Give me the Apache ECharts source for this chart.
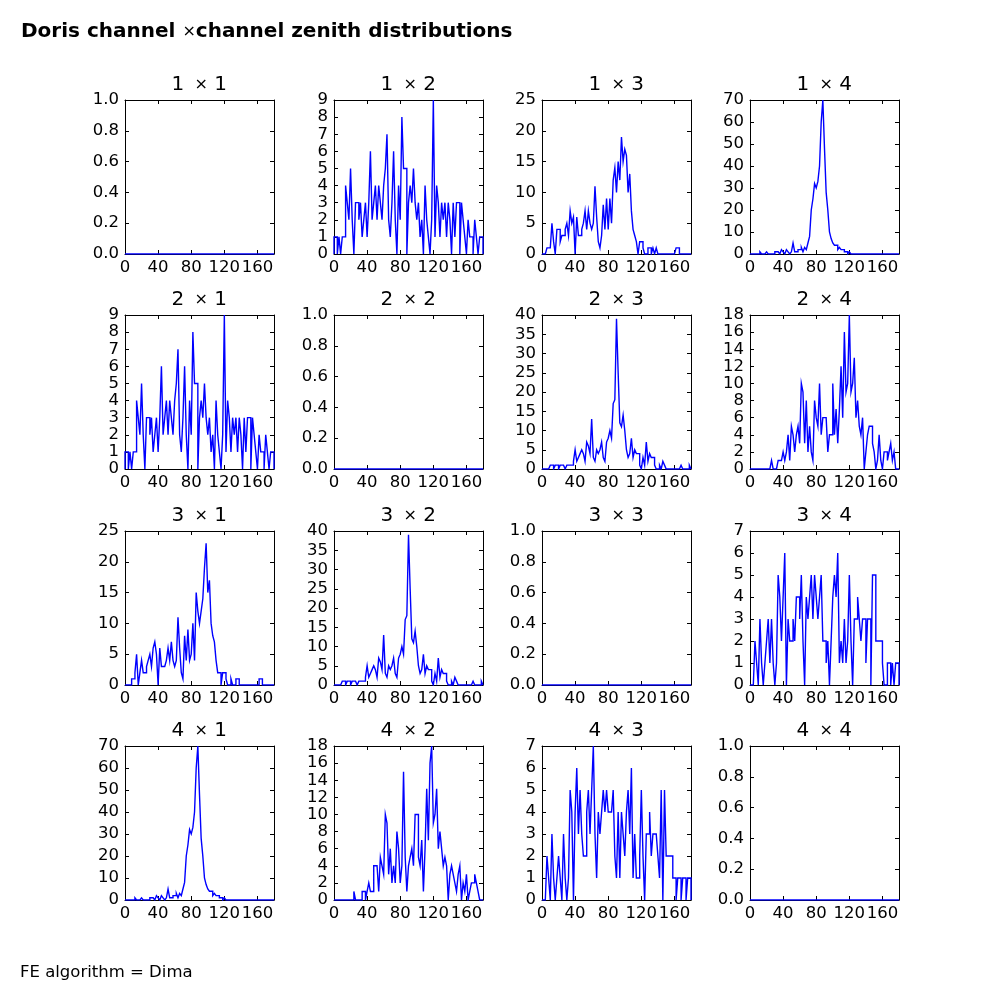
<!DOCTYPE html>
<html><head><meta charset="utf-8">
<script src="https://cdn.jsdelivr.net/npm/echarts@6/dist/echarts.min.js"></script>
<style>html,body{margin:0;padding:0;background:#fff}#c{width:1000px;height:1000px}</style>
</head><body><div id="c"></div>
<script>
// ---- data (bin width 2 degrees, bins start at 0) ----
const binWidth = 2;
const xRange = [0, 180];
const xTicks = [0, 40, 80, 120, 160];
const channels = [1, 2, 3, 4];

const h12 = [1,1,0,1,0,1,1,4,3,2, 5,2,0,3,3,2,3,1,2,3, 1,3,6,2,3,4,2,4,3,2, 4,5,7,2,1,3,6,2,0,4,
             2,8,5,5,0,3,4,3,5,3, 2,3,1,2,0,4,2,1,0,2, 9,1,4,3,1,3,2,3,1,3, 2,0,3,1,3,3,0,3,2,1, 0,2,1,1,0,2,1,0,1,1];
const h21 = [1,1,0,1,0,1,1,4,3,2, 5,2,0,3,3,2,3,1,2,3, 1,3,6,2,3,4,2,4,3,2, 4,5,7,2,1,3,6,2,0,4,
             2,8,5,5,0,3,4,3,5,3, 2,3,1,2,0,4,2,1,0,2, 9,1,4,3,1,3,2,3,1,3, 2,0,3,1,3,3,0,3,2,1, 0,2,1,1,0,2,1,0,1,1];
const h13 = [0,0,0,1,1,1,5,2,0,4, 4,2,3,3,4,5,3,7,5,6, 0,6,3,3,4,5,7,4,7,5, 4,5,11,6,2,1,3,8,4,9,
             4,9,5,12,14,10,15,12,19,15, 17,16,10,13,7,4,3,2,0,2, 2,1,0,0,1,1,0,1,0,1, 0,0,0,0,0,0,0,0,0,0, 0,1,1,0,0,0,0,0,0,0];
const h31 = [0,0,0,0,1,1,2,5,0,2, 4,2,2,3,4,5,3,6,7,5, 0,6,3,3,3,4,6,4,7,4, 3,4,11,6,2,1,8,4,9,4,
             5,10,4,15,12,10,12,14,19,23, 15,17,10,8,7,4,2,2,0,2, 2,1,0,0,1,0,0,1,1,0, 0,0,0,0,0,0,0,0,0,0, 0,1,1,0,0,0,0,0,0,0];
const h14 = [0,0,0,0,0,0,1,0,0,0, 1,0,0,0,0,1,1,1,0,2, 1,0,2,1,0,1,5,1,1,2, 2,3,1,3,2,5,8,20,25,32,
             30,33,40,60,70,48,28,20,10,7, 5,4,4,2,3,2,2,1,1,0, 1,0,0,0,0,0,0,0,0,0, 0,0,0,0,0,0,0,0,0,0, 0,0,0,0,0,0,0,0,0,0];
const h41 = [0,0,0,0,0,0,1,0,0,0, 1,0,0,0,0,1,1,1,0,2, 1,0,2,1,0,1,5,1,1,2, 2,3,1,3,2,5,8,20,25,32,
             30,33,40,60,70,48,28,20,10,7, 5,4,4,2,3,2,2,1,1,0, 1,0,0,0,0,0,0,0,0,0, 0,0,0,0,0,0,0,0,0,0, 0,0,0,0,0,0,0,0,0,0];
const h23 = [0,0,0,0,0,1,1,0,1,1, 0,1,1,1,0,1,1,1,1,2, 5,2,3,4,5,4,2,7,6,4, 13,3,2,5,4,5,7,3,2,7,
             8,10,8,17,18,39,25,12,11,14, 10,5,3,4,8,3,5,4,4,1, 0,3,1,7,2,4,3,3,1,0, 0,1,0,2,1,0,0,0,0,0, 0,0,0,0,1,0,0,0,0,1];
const h32 = [0,0,0,0,0,1,1,0,1,1, 0,1,1,1,0,1,1,1,1,2, 5,2,3,4,5,4,2,7,6,4, 13,3,2,5,4,5,7,3,2,7,
             8,10,8,17,18,39,25,12,11,14, 10,5,3,4,8,3,5,4,4,1, 0,3,1,7,2,4,3,3,1,0, 0,1,0,2,1,0,0,0,0,0, 0,0,0,0,1,0,0,0,0,1];
const h24 = [0,0,0,0,0,0,0,0,0,0, 0,0,0,1,0,0,0,1,1,1, 2,1,2,4,1,5,4,2,4,5, 3,10,9,3,8,2,5,2,1,8,
             6,5,10,4,6,6,6,2,4,4, 10,4,7,3,7,12,6,16,9,10, 18,9,10,13,6,8,5,4,6,0, 2,4,5,5,3,2,0,1,4,1, 0,2,2,1,2,3,1,2,0,0];
const h42 = [0,0,0,0,0,0,0,0,0,0, 0,0,1,0,0,0,0,1,1,0, 1,2,1,1,4,4,4,1,5,4, 3,10,9,3,6,2,4,2,8,6,
             2,4,15,5,1,4,5,6,4,10, 10,5,4,7,1,6,13,7,16,18, 9,10,13,6,8,6,4,5,4,0, 3,4,3,2,1,3,4,0,2,1, 3,0,1,2,2,3,2,1,0,0];
const h34 = [0,0,0,2,1,0,3,1,0,1, 2,3,1,3,1,0,1,5,4,2, 4,6,0,3,2,2,3,2,4,4, 3,5,2,0,4,3,4,5,3,5,
             4,3,4,5,2,2,1,2,0,2, 4,5,4,6,1,2,1,3,1,2, 5,2,0,3,3,4,3,2,3,3, 1,3,3,0,5,5,2,2,2,2, 1,0,0,1,1,0,1,0,1,1];
const h43 = [0,0,0,2,1,0,3,1,0,1, 2,1,0,3,1,0,1,5,4,0, 4,6,3,5,3,2,2,4,5,3, 5,7,3,1,4,3,4,5,4,5,
             4,4,4,5,2,1,4,1,4,3, 2,4,5,3,6,1,3,1,1,2, 5,2,0,3,3,4,2,3,3,3, 2,1,5,0,5,2,2,2,2,1, 1,0,1,1,0,1,1,0,1,1];

// y-axis max and tick step per panel (row-major)
const yMaxes = [1,9,25,70, 9,1,40,18, 25,40,1,7, 70,18,7,1];
const ySteps = [0.2,1,5,10, 1,0.2,5,2, 5,5,0.2,1, 10,2,1,0.2];
const hists = {
  '12': h12, '13': h13, '14': h14, '21': h21, '23': h23, '24': h24,
  '31': h31, '32': h32, '34': h34, '41': h41, '42': h42, '43': h43
};
const mainTitle = ['Doris channel ', '×', 'channel zenith distributions'];
const footer = 'FE algorithm = Dima';

// ---- layout ----
const colLeft = [125, 334, 542, 750];
const rowTop = [100, 315, 531, 746];
const W = 149, H = 154;
const FONT = 'DejaVu Sans';
const TICKFONT = 16.5;

const chart = echarts.init(document.getElementById('c'), null, {renderer: 'canvas'});
const grid = [], xAxis = [], yAxis = [], series = [], graphic = [];

function axisCommon(showLabel, pos) {
  return {
    position: pos,
    axisLine: {show: true, onZero: false, lineStyle: {color: '#000', width: 1}},
    axisTick: {show: true, inside: true, length: 4, lineStyle: {color: '#000', width: 1}},
    splitLine: {show: false},
    axisLabel: {show: showLabel, color: '#000', fontSize: TICKFONT, fontFamily: FONT, showMaxLabel: false}
  };
}

// step outline (histtype='step') built from bin values
function stepPoints(hist) {
  const pts = [[xRange[0], 0]];
  hist.forEach((v, i) => {
    const x0 = xRange[0] + i * binWidth;
    pts.push([x0, v], [x0 + binWidth, v]);
  });
  pts.push([xRange[0] + hist.length * binWidth, 0]);
  return pts;
}

let k = 0;
for (let r = 0; r < 4; r++) {
  for (let c = 0; c < 4; c++) {
    const key = '' + channels[r] + channels[c];
    const gi = k;
    grid.push({left: colLeft[c], top: rowTop[r], width: W, height: H, containLabel: false});
    const xb = Object.assign(axisCommon(true, 'bottom'), {type: 'value', gridIndex: gi, min: xRange[0], max: xRange[1], interval: 40});
    xb.axisLabel.margin = 5;
    const xt = Object.assign(axisCommon(false, 'top'), {type: 'value', gridIndex: gi, min: xRange[0], max: xRange[1], interval: 40});
    const ym = yMaxes[k], ys = ySteps[k];
    const yl = Object.assign(axisCommon(true, 'left'), {type: 'value', gridIndex: gi, min: 0, max: ym, interval: ys});
    yl.axisLabel.margin = 6;
    yl.axisLabel.showMaxLabel = true;
    yl.axisLabel.formatter = ys < 1 ? (v => v.toFixed(1)) : (v => String(Math.round(v)));
    const yr = Object.assign(axisCommon(false, 'right'), {type: 'value', gridIndex: gi, min: 0, max: ym, interval: ys});
    xAxis.push(xb, xt);
    yAxis.push(yl, yr);

    const hist = hists[key];
    const data = hist ? stepPoints(hist) : xRange.map(x => [x, 0]);
    series.push({
      type: 'line', xAxisIndex: 2 * gi, yAxisIndex: 2 * gi, data: data,
      symbol: 'none', showSymbol: false, animation: false, silent: true,
      lineStyle: {color: '#0000ff', width: 1.4, join: 'miter'}, z: 5
    });

    graphic.push({
      type: 'text', left: colLeft[c] + W / 2 - 28, top: rowTop[r] - 25,
      style: {
        text: '{n|' + channels[r] + '}{s|  ×}{n| ' + channels[c] + '}',
        rich: {n: {fontSize: 20, fontFamily: FONT, fill: '#000'}, s: {fontSize: 16, fontFamily: FONT, fill: '#000'}}
      }
    });
    k++;
  }
}

graphic.push({
  type: 'text', left: 21, top: 22,
  style: {
    text: '{b|' + mainTitle[0] + '}{x|' + mainTitle[1] + '}{b|' + mainTitle[2] + '}',
    rich: {
      b: {fontSize: 20, fontWeight: 'bold', fontFamily: FONT, fill: '#000'},
      x: {fontSize: 16, fontFamily: FONT, fill: '#000'}
    }
  }
});
graphic.push({
  type: 'text', left: 20, top: 964,
  style: {text: footer, fontSize: 16.5, fontFamily: FONT, fill: '#000'}
});

chart.setOption({
  animation: false,
  backgroundColor: '#fff',
  grid, xAxis, yAxis, series, graphic
});
</script>
</body></html>
